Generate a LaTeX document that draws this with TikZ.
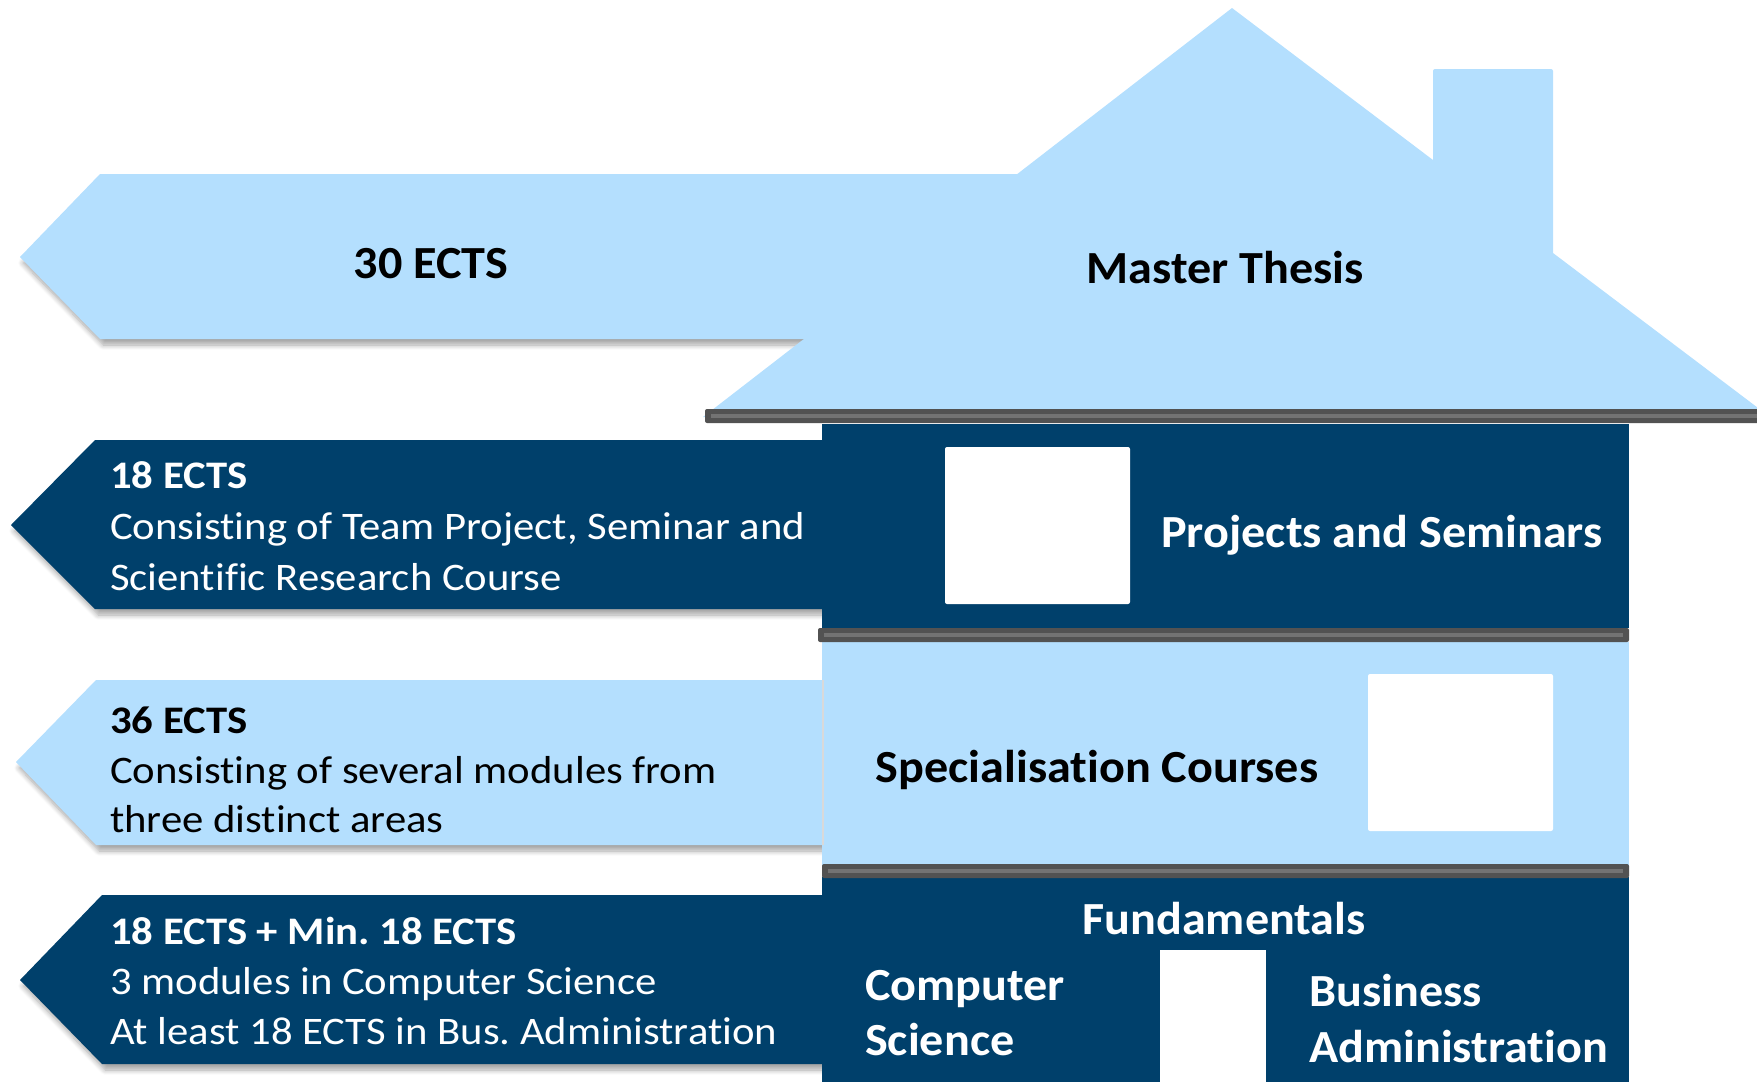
\documentclass[tikz,border=0pt]{standalone}
\usepackage{fontspec}
\setmainfont{Carlito}[RawFeature=-liga]
\newfontfamily\bigfont{Carlito}[FakeStretch=1.047, RawFeature=-liga]
\newfontfamily\smallfont{Carlito}[FakeStretch=1.095, RawFeature=-liga]
\usetikzlibrary{shadows.blur}
\definecolor{lightblue}{RGB}{180,223,254}
\definecolor{navy}{RGB}{0,64,107}
\definecolor{bargray}{RGB}{82,82,82}
\definecolor{barlight}{RGB}{115,115,115}
\tikzset{
  arrowshadow/.style={blur shadow={shadow xshift=3pt, shadow yshift=-6pt, shadow blur steps=8, shadow opacity=35, shadow blur radius=5pt}},
  bigbold/.style={font=\bigfont\fontsize{46}{55}\selectfont\bfseries, inner sep=0pt},
  headbold/.style={font=\smallfont\fontsize{39}{50}\selectfont\bfseries, inner sep=0pt, anchor=base west},
  bodytext/.style={font=\smallfont\fontsize{39}{50}\selectfont, inner sep=0pt, anchor=base west},
  windowbox/.style={fill=white, rounded corners=2pt},
}
\newcommand{\floorbar}[3]{%
  \fill[bargray, rounded corners=2pt] (#1,#3-7) rectangle (#2,#3+7);
  \fill[barlight] (#1+6,#3-2) rectangle (#2-6,#3+2);
}
\frenchspacing
\begin{document}
\begin{tikzpicture}[x=1pt,y=-1pt]
\useasboundingbox (0,0) rectangle (1757,1082);
\clip (0,0) rectangle (1757,1082);

% left arrows
\fill[lightblue, arrowshadow] (20,257) -- (100,174) -- (1100,174) -- (1100,339) -- (100,339) -- cycle;
\fill[navy, arrowshadow] (11,525) -- (95,440) -- (830,440) -- (830,609) -- (95,609) -- cycle;
\fill[lightblue, arrowshadow] (16,762) -- (96,680) -- (824,680) -- (824,845) -- (96,845) -- cycle;
\fill[navy, arrowshadow] (20,980) -- (102,895) -- (830,895) -- (830,1064) -- (102,1064) -- cycle;

% roof with chimney
\fill[lightblue] (703,417) -- (1232,8) -- (1433,160) -- (1433,71) [rounded corners=2pt] -- (1433,69) -- (1553,69) [sharp corners] -- (1553,253) -- (1770,417) -- cycle;

% building floors
\fill[navy] (822,424) rectangle (1629,628);
\fill[lightblue] (822,642) rectangle (1629,866);
\draw[black!15, line width=1.5pt] (823,680) -- (823,845);
\fill[navy] (822,877) rectangle (1629,1090);

% floor bars
\floorbar{705}{1770}{416}
\floorbar{818}{1629}{635}
\floorbar{822}{1629}{871}

% windows and door
\fill[windowbox] (945,447) rectangle (1130,604);
\fill[windowbox] (1368,674) rectangle (1553,831);
\fill[white] (1160,950) rectangle (1266,1090);

% texts
\node[bigbold, anchor=base] (t30) at (431,278) {30 ECTS};
\node[bigbold, anchor=base] (tmt) at (1225,283) {Master Thesis};
\node[bigbold, anchor=base, text=white] (tps) at (1382,547) {Projects and Seminars};
\node[bigbold, anchor=base] (tsc) at (1097,782) {Specialisation Courses};
\node[bigbold, anchor=base, text=white] (tf) at (1224,934) {Fundamentals};
\node[bigbold, anchor=base west, text=white] (tcs1) at (865,1000) {Computer};
\node[bigbold, anchor=base west, text=white] (tcs2) at (865,1055) {Science};
\node[bigbold, anchor=base west, text=white] (tba1) at (1309,1006) {Business};
\node[bigbold, anchor=base west, text=white] (tba2) at (1309,1062) {Administration};

\node[headbold, text=white] (a1h) at (110,488) {18 ECTS};
\node[bodytext, text=white] (a1l1) at (110,539) {Consisting of Team Project, Seminar and};
\node[bodytext, text=white] (a1l2) at (110,590) {Scientific Research Course};

\node[headbold] (a2h) at (110,733) {36 ECTS};
\node[bodytext] (a2l1) at (110,783) {Consisting of several modules from};
\node[bodytext] (a2l2) at (110,832) {three distinct areas};

\node[headbold, text=white] (a3h) at (110,944) {18 ECTS + Min. 18 ECTS};
\node[bodytext, text=white] (a3l1) at (110,994) {3 modules in Computer Science};
\node[bodytext, text=white] (a3l2) at (110,1044) {At least 18 ECTS in Bus. Administration};
\end{tikzpicture}
\end{document}
